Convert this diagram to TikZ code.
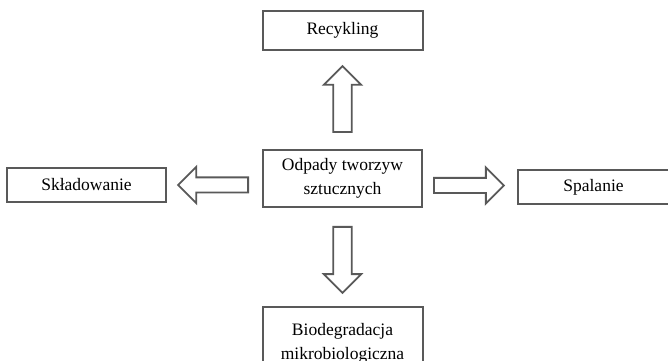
\documentclass[tikz,border=0pt]{standalone}
\usepackage{fontspec}
\setmainfont{Liberation Serif}
\usetikzlibrary{positioning,calc,shapes.arrows}

\begin{document}
\begin{tikzpicture}[x=0.6pt,y=0.6pt,
        box/.style={draw=black!65,line width=1.2pt,align=center,inner sep=0pt,font=\fontsize{10.5}{14.4}\selectfont},
        bigarrow/.style={single arrow,draw=black!65,line width=1.1pt,inner sep=0pt,anchor=tail,single arrow tip angle=90}]
    \useasboundingbox (0,0) rectangle (668,-361);
    % Centre
    \node[box,minimum width=95.4pt,minimum height=34.2pt] (odpady) at (342.5,-178.5) {Odpady tworzyw\\sztucznych};
    % Ways
    \node[box,minimum width=96pt,minimum height=23.4pt,above=58.8pt of odpady] (recykling) {Recykling};
    \node[box,minimum width=95.4pt,minimum height=20.4pt,left=57pt of odpady,yshift=-3.9pt] (skladowanie) {Składowanie};
    \node[box,minimum width=90.6pt,minimum height=20.4pt,right=56.4pt of odpady,yshift=-5.1pt] (spalanie) {Spalanie};
    \node[box,minimum width=96pt,minimum height=43.2pt,below=58.8pt of odpady] (bio) {Biodegradacja\\mikrobiologiczna};
    % Arrows
    \node[bigarrow,minimum height=39.6pt,inner xsep=5pt,single arrow head extend=5.7pt,shape border rotate=90] (up) at ($(odpady.north)+(0,16)$) {};
    \node[bigarrow,minimum height=39.6pt,inner xsep=5pt,single arrow head extend=5.7pt,shape border rotate=270] (down) at ($(odpady.south)+(0,-18)$) {};
    \node[bigarrow,minimum height=42pt,inner ysep=4pt,single arrow head extend=6.3pt,shape border rotate=180] (left) at ($(odpady.west |- skladowanie.east)+(-13,0)$) {};
    \node[bigarrow,minimum height=42pt,inner ysep=4pt,single arrow head extend=6.3pt] (right) at ($(odpady.east |- spalanie.west)+(10,1.5)$) {};
\end{tikzpicture}
\end{document}
